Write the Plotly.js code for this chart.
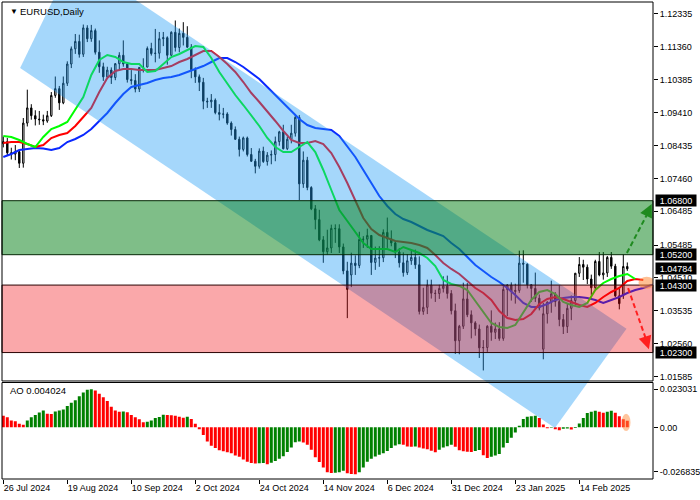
<!DOCTYPE html>
<html>
<head>
<meta charset="utf-8">
<script src="https://cdn.plot.ly/plotly-3.0.1.min.js"></script>
<style>html,body{margin:0;padding:0;background:#fff;}#chart{width:700px;height:500px;}</style>
</head>
<body>
<div id="chart"></div>
<script>
// ---------- DATA ----------
const opens = [1.0849,1.0855,1.0822,1.0818,1.0825,1.0791,1.0910,1.0955,1.0932,1.0922,
1.0920,1.0916,1.0932,1.0992,1.1012,1.0970,1.1028,1.1085,1.1130,1.1152,
1.1114,1.1192,1.1160,1.1184,1.1120,1.1077,1.1047,1.1067,1.1045,1.1086,
1.1111,1.1085,1.1039,1.1036,1.1011,1.1075,1.1076,1.1131,1.1116,1.1117,
1.1160,1.1163,1.1111,1.1179,1.1134,1.1176,1.1164,1.1135,1.1068,1.1047,
1.1031,1.0975,1.0973,1.0978,1.0941,1.0936,1.0937,1.0910,1.0891,1.0862,
1.0832,1.0866,1.0817,1.0797,1.0782,1.0827,1.0796,1.0815,1.0817,1.0855,
1.0884,1.0834,1.0862,1.0880,1.0927,1.0730,1.0800,1.0719,1.0656,1.0624,
1.0564,1.0529,1.0540,1.0598,1.0597,1.0543,1.0472,1.0460,1.0495,1.0488,
1.0565,1.0566,1.0577,1.0497,1.0510,1.0511,1.0586,1.0567,1.0555,1.0528,
1.0496,1.0467,1.0502,1.0512,1.0490,1.0352,1.0364,1.0430,1.0406,1.0405,
1.0420,1.0427,1.0405,1.0354,1.0265,1.0308,1.0389,1.0342,1.0318,1.0300,
1.0244,1.0245,1.0308,1.0290,1.0300,1.0272,1.0417,1.0430,1.0411,1.0414,
1.0495,1.0492,1.0431,1.0420,1.0391,1.0240,1.0345,1.0379,1.0404,1.0381,
1.0328,1.0307,1.0361,1.0384,1.0465,1.0491,1.0483,1.0448,1.0422,1.0500,
1.0460,1.0466,1.0512,1.0486,1.0398,1.0400,1.0485];
const highs = [1.0870,1.0866,1.0837,1.0845,1.0832,1.0925,1.1009,1.0966,1.0948,1.0946,
1.0935,1.0946,1.1002,1.1048,1.1020,1.1048,1.1093,1.1137,1.1174,1.1172,
1.1202,1.1200,1.1201,1.1190,1.1155,1.1089,1.1077,1.1075,1.1088,1.1120,
1.1155,1.1090,1.1067,1.1055,1.1075,1.1102,1.1137,1.1148,1.1189,1.1180,
1.1180,1.1167,1.1182,1.1214,1.1190,1.1209,1.1197,1.1144,1.1075,1.1054,
1.1044,1.0985,1.0996,1.0983,1.0966,1.0955,1.0942,1.0915,1.0900,1.0870,
1.0870,1.0870,1.0836,1.0804,1.0835,1.0840,1.0824,1.0829,1.0870,1.0887,
1.0905,1.0870,1.0905,1.0937,1.0934,1.0826,1.0810,1.0723,1.0667,1.0653,
1.0575,1.0594,1.0609,1.0610,1.0610,1.0553,1.0499,1.0526,1.0518,1.0588,
1.0575,1.0597,1.0578,1.0544,1.0545,1.0595,1.0630,1.0592,1.0560,1.0540,
1.0527,1.0522,1.0532,1.0535,1.0515,1.0422,1.0446,1.0446,1.0416,1.0431,
1.0456,1.0458,1.0415,1.0375,1.0312,1.0437,1.0436,1.0355,1.0323,1.0313,
1.0267,1.0311,1.0355,1.0319,1.0320,1.0432,1.0433,1.0438,1.0434,1.0532,
1.0533,1.0494,1.0433,1.0467,1.0402,1.0377,1.0382,1.0443,1.0409,1.0429,
1.0344,1.0374,1.0399,1.0466,1.0513,1.0505,1.0491,1.0461,1.0505,1.0528,
1.0528,1.0516,1.0528,1.0493,1.0420,1.0521,1.0497];
const lows = [1.0838,1.0814,1.0802,1.0800,1.0777,1.0778,1.0900,1.0920,1.0903,1.0905,
1.0904,1.0911,1.0928,1.0985,1.0949,1.0966,1.1020,1.1073,1.1115,1.1104,
1.1106,1.1150,1.1151,1.1113,1.1059,1.1035,1.1042,1.1026,1.1037,1.1070,
1.1077,1.1030,1.1024,1.1001,1.1002,1.1060,1.1075,1.1110,1.1090,1.1101,
1.1138,1.1083,1.1109,1.1122,1.1120,1.1140,1.1133,1.1043,1.1029,1.1005,
1.0951,1.0955,1.0955,1.0936,1.0918,1.0924,1.0905,1.0873,1.0860,1.0811,
1.0826,1.0811,1.0795,1.0761,1.0775,1.0792,1.0784,1.0788,1.0797,1.0843,
1.0832,1.0830,1.0850,1.0870,1.0682,1.0718,1.0711,1.0652,1.0595,1.0560,
1.0496,1.0520,1.0525,1.0555,1.0525,1.0462,1.0332,1.0424,1.0460,1.0480,
1.0540,1.0540,1.0460,1.0475,1.0484,1.0498,1.0540,1.0545,1.0510,1.0482,
1.0455,1.0460,1.0490,1.0478,1.0343,1.0342,1.0344,1.0390,1.0380,1.0389,
1.0408,1.0390,1.0343,1.0226,1.0225,1.0300,1.0335,1.0272,1.0280,1.0214,
1.0177,1.0232,1.0265,1.0270,1.0265,1.0265,1.0338,1.0384,1.0375,1.0407,
1.0437,1.0420,1.0380,1.0380,1.0355,1.0210,1.0316,1.0348,1.0366,1.0308,
1.0285,1.0288,1.0326,1.0371,1.0454,1.0445,1.0433,1.0401,1.0417,1.0456,
1.0446,1.0454,1.0478,1.0395,1.0358,1.0389,1.0472];
const closes = [1.0855,1.0822,1.0818,1.0825,1.0791,1.0910,1.0955,1.0932,1.0922,1.0920,
1.0916,1.0932,1.0992,1.1012,1.0970,1.1028,1.1085,1.1130,1.1152,1.1114,
1.1192,1.1160,1.1184,1.1120,1.1077,1.1047,1.1067,1.1045,1.1086,1.1111,
1.1085,1.1039,1.1036,1.1011,1.1075,1.1076,1.1131,1.1116,1.1117,1.1160,
1.1163,1.1111,1.1179,1.1134,1.1176,1.1164,1.1135,1.1068,1.1047,1.1031,
1.0975,1.0973,1.0978,1.0941,1.0936,1.0937,1.0910,1.0891,1.0862,1.0832,
1.0866,1.0817,1.0797,1.0782,1.0827,1.0796,1.0815,1.0817,1.0855,1.0884,
1.0834,1.0862,1.0880,1.0927,1.0730,1.0800,1.0719,1.0656,1.0624,1.0564,
1.0529,1.0540,1.0598,1.0597,1.0543,1.0472,1.0417,1.0495,1.0488,1.0565,
1.0566,1.0577,1.0497,1.0510,1.0511,1.0586,1.0567,1.0555,1.0528,1.0496,
1.0467,1.0502,1.0512,1.0490,1.0352,1.0364,1.0430,1.0406,1.0405,1.0420,
1.0427,1.0405,1.0354,1.0265,1.0308,1.0389,1.0342,1.0318,1.0300,1.0244,
1.0245,1.0308,1.0290,1.0300,1.0272,1.0417,1.0430,1.0411,1.0414,1.0495,
1.0492,1.0431,1.0420,1.0391,1.0362,1.0345,1.0379,1.0404,1.0381,1.0328,
1.0307,1.0361,1.0384,1.0465,1.0491,1.0483,1.0448,1.0422,1.0500,1.0460,
1.0466,1.0512,1.0486,1.0398,1.0375,1.0485,1.0478];

// Alligator lines (values read every 2 bars, already shifted forward)
const jawVals = [1.08095,1.08184,1.08302,1.08332,1.08362,1.08347,1.08302,1.08362,1.08539,1.08628,
1.08747,1.08925,1.09162,1.09399,1.09695,1.09962,1.10169,1.10229,1.10288,1.10377,
1.10436,1.10466,1.10525,1.10614,1.10703,1.10791,1.10910,1.11028,1.11028,1.10910,
1.10762,1.10584,1.10406,1.10169,1.09932,1.09695,1.09458,1.09221,1.09043,1.08954,
1.08925,1.08895,1.08717,1.08421,1.08095,1.07710,1.07325,1.06939,1.06643,1.06406,
1.06258,1.06169,1.06050,1.05932,1.05843,1.05754,1.05547,1.05369,1.05132,1.04895,
1.04717,1.04539,1.04391,1.04213,1.04006,1.03769,1.03650,1.03650,1.03739,1.03858,
1.03917,1.03947,1.03947,1.03917,1.03858,1.03769,1.03858,1.03947,1.04065,1.04154,
1.04213,1.04302,1.04332];
const teethVals = [1.08510,1.08539,1.08539,1.08480,1.08391,1.08451,1.08658,1.08747,1.08806,1.09014,
1.09281,1.09547,1.10021,1.10436,1.10643,1.10703,1.10703,1.10673,1.10673,1.10673,
1.10732,1.10791,1.10910,1.10999,1.11117,1.11236,1.11236,1.11058,1.10851,1.10614,
1.10317,1.09991,1.09725,1.09458,1.09162,1.08866,1.08599,1.08510,1.08510,1.08569,
1.08480,1.08214,1.07799,1.07325,1.06821,1.06288,1.05962,1.05784,1.05695,1.05606,
1.05576,1.05547,1.05487,1.05399,1.05191,1.04954,1.04777,1.04629,1.04421,1.04213,
1.04065,1.03858,1.03532,1.03325,1.03265,1.03295,1.03443,1.03739,1.03887,1.03947,
1.03887,1.03799,1.03710,1.03650,1.03769,1.03947,1.04095,1.04213,1.04420,1.04480,
1.04451];
const lipsVals = [1.08717,1.08688,1.08599,1.08480,1.08391,1.08688,1.08925,1.09014,1.09132,1.09488,
1.09873,1.10525,1.10969,1.11117,1.11058,1.10910,1.10851,1.10851,1.10614,1.10643,
1.10851,1.11058,1.11147,1.11265,1.11384,1.11354,1.11028,1.10614,1.10258,1.09932,
1.09636,1.09340,1.09014,1.08658,1.08391,1.08243,1.08243,1.08391,1.08539,1.08243,
1.07710,1.07117,1.06525,1.06199,1.05873,1.05547,1.05369,1.05369,1.05369,1.05280,
1.05428,1.05339,1.05250,1.05102,1.04865,1.04450,1.04332,1.04273,1.04154,1.03828,
1.03503,1.03177,1.03058,1.03029,1.03117,1.03503,1.03858,1.04095,1.04154,1.04036,
1.03799,1.03710,1.03650,1.03769,1.04154,1.04362,1.04480,1.04569,1.04628,1.04480];

// Awesome Oscillator
const aoVals = [0.00706,0.00608,0.00412,0.00372,0.00216,0.00157,0.00412,0.00608,0.00745,0.00902,
0.01019,0.00823,0.00804,0.00960,0.01019,0.01078,0.01294,0.01490,0.01646,0.01882,
0.02117,0.02274,0.02303,0.02234,0.02038,0.01823,0.01588,0.01254,0.01019,0.00941,
0.00960,0.00921,0.00745,0.00608,0.00490,0.00314,0.00333,0.00412,0.00568,0.00627,
0.00764,0.00745,0.00725,0.00706,0.00647,0.00588,0.00647,0.00510,0.00216,-0.00118,
-0.00470,-0.00862,-0.01117,-0.01254,-0.01392,-0.01450,-0.01509,-0.01568,-0.01705,-0.01784,
-0.01940,-0.02078,-0.02156,-0.02195,-0.02176,-0.02156,-0.02234,-0.02136,-0.02038,-0.01901,
-0.01744,-0.01490,-0.01215,-0.00902,-0.00862,-0.00921,-0.01058,-0.01352,-0.01803,-0.02097,
-0.02430,-0.02724,-0.02764,-0.02744,-0.02724,-0.02626,-0.02783,-0.02822,-0.02842,-0.02724,
-0.02430,-0.02078,-0.01901,-0.01764,-0.01666,-0.01568,-0.01431,-0.01254,-0.01098,-0.01019,
-0.01058,-0.01156,-0.01176,-0.01156,-0.01215,-0.01274,-0.01333,-0.01411,-0.01509,-0.01352,
-0.01215,-0.01137,-0.01058,-0.01176,-0.01392,-0.01450,-0.01470,-0.01490,-0.01431,-0.01372,
-0.01686,-0.01862,-0.01784,-0.01705,-0.01607,-0.01215,-0.00941,-0.00627,-0.00314,0.00098,
0.00510,0.00647,0.00666,0.00706,0.00568,0.00176,-0.00059,-0.00020,-0.00118,-0.00176,
-0.00078,-0.00069,-0.00137,-0.00039,0.00235,0.00568,0.00862,0.00941,0.01000,0.00941,
0.00882,0.00941,0.01000,0.00882,0.00666,0.00490,0.004024];

// Axis ticks and labels
const dateTickIdx = [0,16,32,48,64,80,96,112,128,144];
const dateTickText = ['26 Jul 2024','19 Aug 2024','10 Sep 2024','2 Oct 2024','24 Oct 2024','14 Nov 2024','6 Dec 2024','31 Dec 2024','23 Jan 2025','14 Feb 2025'];
const priceTickVals = [1.12335,1.11360,1.10385,1.09410,1.08435,1.07460,1.06485,1.05485,1.04510,1.03535,1.02560,1.01585];
const priceTickText = ['1.12335','1.11360','1.10385','1.09410','1.08435','1.07460','1.06485','1.05485','1.04510','1.03535','1.02560','1.01585'];
const aoTickVals = [0.023031, 0, -0.026835];
const aoTickText = ['0.023031','0.00','-0.026835'];
const levelPrices = [1.06800, 1.05200, 1.04300, 1.02300];
const levelText = ['1.06800','1.05200','1.04300','1.02300'];
const lastPrice = 1.04784;
const lastPriceText = '1.04784';
const aoLast = '0.004024';
const symbolText = 'EURUSD,Daily';
const greenZone = [1.05200, 1.06800];
const redZone = [1.02300, 1.04300];

// ---------- LAYOUT GEOMETRY ----------
const yMainRange = [1.01458, 1.12688];
const mainDomain = [0.2055, 1];
const aoDomain = [0, 0.2023];
const aoRange = [-0.03127, 0.02715];
const xRange = [-0.325, 162.425];
function priceToPaper(p){ return mainDomain[0] + (p - yMainRange[0])/(yMainRange[1]-yMainRange[0])*(mainDomain[1]-mainDomain[0]); }

// channel corners as (bar index, price)
const band = [[17.5,1.13986],[155.8,1.03005],[137.9,1.00065],[4.2,1.10732]];
const bandPath = 'M' + band.map(c => c[0] + ',' + priceToPaper(c[1]).toFixed(5)).join('L') + 'Z';

const idx = closes.map((_, i) => i);
const step2 = arr => arr.map((_, k) => 2*k);
const aoColors = aoVals.map((v, i) => (i > 0 && v > aoVals[i-1]) ? '#008000' : '#ff0000');

const traces = [
  { type:'candlestick', x: idx, open: opens, high: highs, low: lows, close: closes,
    xaxis:'x', yaxis:'y', hoverinfo:'skip', whiskerwidth:0,
    increasing:{line:{color:'#000000', width:1}, fillcolor:'#ffffff'},
    decreasing:{line:{color:'#000000', width:1}, fillcolor:'#000000'} },
  { type:'scatter', mode:'lines', x: step2(jawVals), y: jawVals, xaxis:'x', yaxis:'y',
    line:{color:'#0a28ff', width:2}, hoverinfo:'skip' },
  { type:'scatter', mode:'lines', x: step2(teethVals), y: teethVals, xaxis:'x', yaxis:'y',
    line:{color:'#ff0000', width:2}, hoverinfo:'skip' },
  { type:'scatter', mode:'lines', x: step2(lipsVals), y: lipsVals, xaxis:'x', yaxis:'y',
    line:{color:'#00ff00', width:2}, hoverinfo:'skip' },
  { type:'bar', x: idx, y: aoVals, xaxis:'x', yaxis:'y2',
    marker:{color: aoColors, line:{width:0}}, hoverinfo:'skip' }
];

const shapes = [
  { type:'path', xref:'x', yref:'paper', path: bandPath, layer:'above',
    fillcolor:'rgba(30,155,245,0.40)', line:{width:0} },
  { type:'rect', xref:'paper', yref:'y', x0:0, x1:1, y0:greenZone[0], y1:greenZone[1], layer:'above',
    fillcolor:'rgba(0,125,17,0.5)', line:{color:'#062806', width:1} },
  { type:'rect', xref:'paper', yref:'y', x0:0, x1:1, y0:redZone[0], y1:redZone[1], layer:'above',
    fillcolor:'rgba(240,6,12,0.35)', line:{color:'#2a0404', width:1} },
  { type:'line', xref:'x', yref:'y', x0:155.9, y0:1.0525, x1:161.5, y1:1.0652, layer:'above',
    line:{color:'#1f8a1f', width:2, dash:'5px,3px'} },
  { type:'line', xref:'x', yref:'y', x0:156.2, y0:1.0421, x1:160.9, y1:1.0262, layer:'above',
    line:{color:'#ff2020', width:2, dash:'5px,3px'} },
  { type:'circle', xref:'x', yref:'y', x0:158.8, x1:162.9, y0:1.0419, y1:1.0455, layer:'above',
    fillcolor:'rgba(255,140,60,0.55)', line:{width:0} },
  { type:'circle', xref:'x', yref:'y2', x0:154.6, x1:156.8, y0:-0.0022, y1:0.0082, layer:'above',
    fillcolor:'rgba(255,140,60,0.5)', line:{width:0} },
  { type:'rect', xref:'paper', yref:'paper', x0:0, x1:1, y0:mainDomain[0], y1:mainDomain[1], layer:'above',
    line:{color:'#000', width:1}, fillcolor:'rgba(0,0,0,0)' },
  { type:'rect', xref:'paper', yref:'paper', x0:0, x1:1, y0:aoDomain[0], y1:aoDomain[1], layer:'above',
    line:{color:'#000', width:1}, fillcolor:'rgba(0,0,0,0)' }
];

const boxAnn = (p, t) => ({ xref:'paper', yref:'y', x:1, y:p, xanchor:'left', yanchor:'middle', xshift:2,
  text:t, showarrow:false, bgcolor:'#000000', font:{color:'#ffffff', size:9, family:'Liberation Sans'},
  width:38, height:9, borderpad:1, align:'center' });

const annotations = levelPrices.map((p, i) => boxAnn(p, levelText[i]));
annotations.push(boxAnn(lastPrice, lastPriceText));
annotations.push({ xref:'paper', yref:'paper', x:0.0085, y:0.981, xanchor:'left', yanchor:'middle',
  text:'▼', showarrow:false, font:{size:8, color:'#000'} });
annotations.push({ xref:'paper', yref:'paper', x:0.0246, y:0.981, xanchor:'left', yanchor:'middle',
  text:symbolText, showarrow:false, font:{size:9.5, color:'#000'} });
annotations.push({ xref:'paper', yref:'paper', x:0.009, y:0.1845, xanchor:'left', yanchor:'middle',
  text:'AO ' + aoLast, showarrow:false, font:{size:9.5, color:'#000'} });
// arrow heads
annotations.push({ xref:'x', yref:'y', x:162.1, y:1.0670, ax:-4.3, ay:9.0, text:'', showarrow:true,
  arrowhead:2, arrowsize:1.3, arrowwidth:2, arrowcolor:'#1f8a1f' });
annotations.push({ xref:'x', yref:'y', x:161.4, y:1.0240, ax:-3.0, ay:-9.5, text:'', showarrow:true,
  arrowhead:2, arrowsize:1.3, arrowwidth:2, arrowcolor:'#ff2020' });

const layout = {
  width:700, height:500,
  margin:{l:2, r:47, t:2, b:21, pad:0},
  paper_bgcolor:'#ffffff', plot_bgcolor:'#ffffff',
  font:{family:'Liberation Sans', size:9, color:'#000'},
  showlegend:false,
  boxgap:0.5,
  bargap:0.25,
  xaxis:{ range:xRange, anchor:'y2', showgrid:false, zeroline:false, showline:false,
    rangeslider:{visible:false}, tickmode:'array', tickvals:dateTickIdx, ticktext:dateTickText,
    ticks:'outside', ticklen:4, tickcolor:'#000', ticklabelposition:'outside right', fixedrange:true },
  yaxis:{ domain:mainDomain, range:yMainRange, anchor:'x', side:'right', showgrid:false, zeroline:false,
    showline:false, tickmode:'array', tickvals:priceTickVals, ticktext:priceTickText,
    ticks:'outside', ticklen:4, tickcolor:'#000', fixedrange:true },
  yaxis2:{ domain:aoDomain, range:aoRange, anchor:'x', side:'right', showgrid:false, zeroline:false,
    showline:false, tickmode:'array', tickvals:aoTickVals, ticktext:aoTickText,
    ticks:'outside', ticklen:4, tickcolor:'#000', fixedrange:true },
  shapes: shapes,
  annotations: annotations
};

Plotly.newPlot('chart', traces, layout, {displayModeBar:false, staticPlot:true});
</script>
</body>
</html>
